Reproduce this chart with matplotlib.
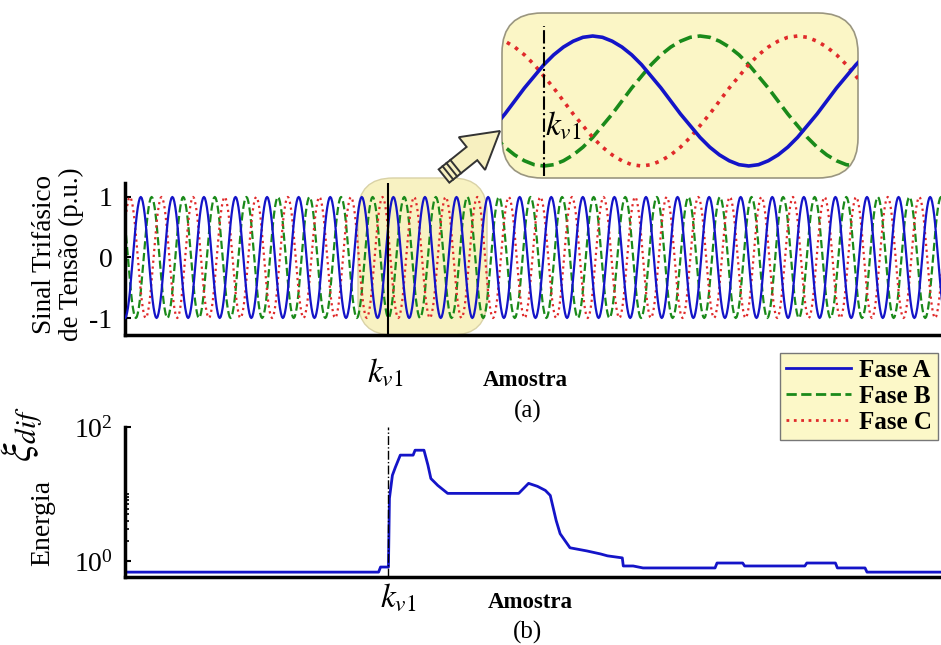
import numpy as np
import matplotlib
matplotlib.use("Agg")
import matplotlib.pyplot as plt
from matplotlib.patches import FancyBboxPatch, FancyArrow
from matplotlib.transforms import IdentityTransform
from matplotlib.lines import Line2D
from matplotlib.ticker import FixedLocator, LogFormatterSciNotation, NullFormatter

W, H = 941, 645

plt.rcParams['font.family'] = ['Liberation Serif', 'DejaVu Serif']
plt.rcParams['mathtext.fontset'] = 'stix'

# one period of phase A, 32 samples per cycle (p.u.)
cycle_a = [-1.00, -0.98, -0.92, -0.83, -0.71, -0.56, -0.38, -0.20,
           0.00, 0.20, 0.38, 0.56, 0.71, 0.83, 0.92, 0.98,
           1.00, 0.98, 0.92, 0.83, 0.71, 0.56, 0.38, 0.20,
           0.00, -0.20, -0.38, -0.56, -0.71, -0.83, -0.92, -0.98]
n_cycles = 26
lag_b = 11   # samples of lag for phase B
lag_c = 21   # samples of lag for phase C

fase_a = np.tile(cycle_a, n_cycles)
fase_b = np.tile(np.roll(cycle_a, lag_b), n_cycles)
fase_c = np.tile(np.roll(cycle_a, lag_c), n_cycles)
amostras = np.arange(len(fase_a))

k_v1 = 267
x_max = 827

# differential energy (log scale)
energia_x = [2, 257, 259, 267, 268, 271, 274, 279, 292, 294, 303, 307, 310, 317,
             327, 399, 403, 409, 418, 426, 431, 437, 441, 446, 451, 468, 482,
             489, 504, 505, 515, 525, 598, 600, 626, 628, 689, 691, 720, 722,
             750, 752, 827]
energia_y = [0.68, 0.68, 0.81, 0.81, 8.6, 19, 25, 38, 38, 45, 45, 27, 17, 13.4,
             10.2, 10.2, 11.7, 14.4, 13, 11.3, 9.5, 4.0, 2.55, 2.0, 1.57, 1.41,
             1.27, 1.19, 1.11, 0.84, 0.84, 0.785, 0.785, 0.93, 0.93, 0.84, 0.84,
             0.93, 0.93, 0.785, 0.785, 0.68, 0.68]

labels = ['Fase A', 'Fase B', 'Fase C']
cores = ['#1414c8', '#1a8a1a', '#e02a2a']
estilos = ['-', '--', ':']


def fpos(x, y):
    return x / W, 1 - y / H


def pix_box(x0, y0, x1, y1, r, **kw):
    return FancyBboxPatch((x0, H - y1), x1 - x0, y1 - y0,
                          boxstyle=f"round,pad=0,rounding_size={r}",
                          transform=IdentityTransform(), **kw)


fig = plt.figure(figsize=(W / 100, H / 100), dpi=100)
fig.patch.set_facecolor('white')

# ---- (a) three-phase voltage
ax1 = fig.add_axes([125 / W, 1 - 335 / H, 1 - 125 / W, (335 - 183) / H])
ax1.set_facecolor('none')
for y, c, ls in zip([fase_a, fase_b, fase_c], cores, estilos):
    ax1.plot(amostras, y, color=c, ls=ls, lw=1.6, zorder=3 if ls == '-' else 2)
ax1.axvline(k_v1, color='black', lw=1.5, zorder=4)
ax1.set_xlim(0, x_max)
ax1.set_ylim(-1.28, 1.23)
ax1.set_yticks([-1, 0, 1])
ax1.set_yticklabels(['-1', '0', '1'])
ax1.set_xticks([])
ax1.tick_params(axis='y', direction='in', length=4, width=1.5, labelsize=20, pad=9)
for s in ['top', 'right']:
    ax1.spines[s].set_visible(False)
for s in ['left', 'bottom']:
    ax1.spines[s].set_linewidth(2.5)

hl = pix_box(358, 178, 487, 335, 35, facecolor='#f8f2c2', edgecolor='#d9d2a6',
             lw=1, zorder=1)
hl.set_clip_on(False)
ax1.add_patch(hl)

fig.text(*fpos(58, 254), 'Sinal Trifásico\nde Tensão (p.u.)', rotation=90,
         ha='center', va='center', multialignment='center', fontsize=19.5,
         linespacing=1.05)
fig.text(*fpos(385, 373), r'$k_{v1}$', ha='center', va='center', fontsize=24)
fig.text(*fpos(525, 380), 'Amostra', ha='center', va='center', fontsize=16.5,
         fontweight='bold')
fig.text(*fpos(528, 411), '(a)', ha='center', va='center', fontsize=18)

# ---- zoomed view
axin = fig.add_axes([502 / W, 1 - 178 / H, 356 / W, 165 / H])
axin.axis('off')
caixa = pix_box(502, 13, 858, 178, 40, facecolor='#fbf6c6', edgecolor='#9a9680',
                lw=1.2, zorder=0)
caixa.set_clip_on(False)
axin.add_patch(caixa)
for y, c, ls in zip([fase_a, fase_b, fase_c], cores, estilos):
    ln, = axin.plot(amostras, y, color=c, ls=ls, lw=2.6,
                    zorder=3 if ls == '-' else 2)
    ln.set_clip_path(caixa)
kl, = axin.plot([k_v1, k_v1], [-1.15, 1.15], color='black', ls='-.', lw=1.5,
                zorder=4)
axin.set_xlim(262.7, 299.2)
axin.set_ylim(-1.185, 1.354)
fig.text(*fpos(563, 126), r'$k_{v1}$', ha='center', va='center', fontsize=24)

# arrow pointing at the zoomed view
tail = np.array([444.0, H - 176.0])
tip = np.array([500.0, H - 131.0])
d = tip - tail
seta = FancyArrow(tail[0], tail[1], d[0], d[1], width=17, head_width=42,
                  head_length=36, length_includes_head=True,
                  transform=IdentityTransform(), facecolor='#f7f0c0',
                  edgecolor='#333333', lw=1.4)
fig.add_artist(seta)
u = d / np.hypot(*d)
n = np.array([-u[1], u[0]])
for t in (5, 10, 15):
    p = tail + u * t
    fig.add_artist(Line2D([p[0] - n[0] * 8.5, p[0] + n[0] * 8.5],
                          [p[1] - n[1] * 8.5, p[1] + n[1] * 8.5],
                          transform=IdentityTransform(), color='#333333', lw=1.4))

# legend
handles = [Line2D([], [], color=c, ls=ls, lw=2) for c, ls in zip(cores, estilos)]
fig.legend(handles, labels, loc='upper right', bbox_to_anchor=fpos(938, 353),
           frameon=True, fancybox=False, facecolor='#fcf8c8', edgecolor='#777777',
           framealpha=1, prop={'weight': 'bold', 'size': 18}, handlelength=2.6,
           labelspacing=0.12, borderpad=0.25, handletextpad=0.3, borderaxespad=0)

# ---- (b) energy
ax2 = fig.add_axes([125 / W, 1 - 577 / H, 1 - 125 / W, (577 - 427) / H])
ax2.set_facecolor('none')
ax2.plot(energia_x, energia_y, color='#1414c8', lw=2)
ax2.axvline(k_v1, color='black', ls='-.', lw=1)
ax2.set_yscale('log')
ax2.set_xlim(0, x_max)
ax2.set_ylim(0.575, 100)
ax2.yaxis.set_major_locator(FixedLocator([1, 100]))
ax2.yaxis.set_major_formatter(LogFormatterSciNotation())
ax2.yaxis.set_minor_locator(FixedLocator([2, 3, 4, 5, 6, 7, 8, 9, 10]))
ax2.yaxis.set_minor_formatter(NullFormatter())
ax2.set_xticks([])
ax2.tick_params(axis='y', which='major', direction='in', length=4, width=1.5,
                labelsize=20, pad=9)
ax2.tick_params(axis='y', which='minor', direction='in', length=3, width=1.2)
for s in ['top', 'right']:
    ax2.spines[s].set_visible(False)
for s in ['left', 'bottom']:
    ax2.spines[s].set_linewidth(2.5)

fig.text(*fpos(43, 523), 'Energia', rotation=90, ha='center', va='center',
         fontsize=20)
fig.text(*fpos(22, 434), r'$\xi_{dif}$', rotation=90, ha='center', va='center',
         fontsize=30)
fig.text(*fpos(398, 598), r'$k_{v1}$', ha='center', va='center', fontsize=24)
fig.text(*fpos(530, 603), 'Amostra', ha='center', va='center', fontsize=16.5,
         fontweight='bold')
fig.text(*fpos(527, 632), '(b)', ha='center', va='center', fontsize=18)

fig.savefig('out.png', dpi=100, facecolor='white')
